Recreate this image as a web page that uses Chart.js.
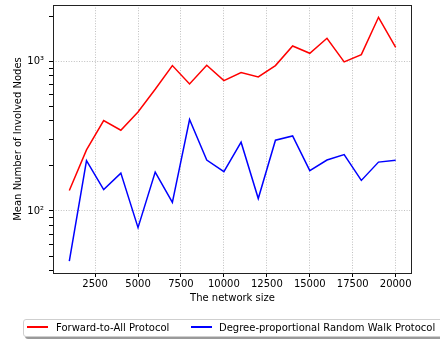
<!DOCTYPE html>
<html>
<head>
<meta charset="utf-8">
<script src="https://cdn.jsdelivr.net/npm/chart.js@4.4.1/dist/chart.umd.min.js"></script>
<style>
  html, body { margin:0; padding:0; background:#fff; overflow:hidden; }
  #wrap { position:relative; width:440px; height:339px; overflow:hidden; }
  #c { position:absolute; left:0; top:0; }
  #legend {
    position:absolute; left:23px; top:319px; width:440px; height:16px;
    border:1px solid #cfcfcf; border-radius:3px; background:#fff;
    box-shadow: 2px 2px 0 #9a9a9a;
    font-family:'DejaVu Sans', sans-serif; font-size:10px; color:#000;
  }
  .swatch { position:absolute; top:6px; width:21px; height:2px; }
  .txt { position:absolute; top:0; height:16px; line-height:15px; white-space:nowrap; }
</style>
</head>
<body>
<div id="wrap">
  <canvas id="c" width="440" height="339"></canvas>
  <div id="legend"></div>
</div>
<script>
const networkSizes = [1000,2000,3000,4000,5000,6000,7000,8000,9000,10000,11000,12000,13000,14000,15000,16000,17000,18000,19000,20000];
const forwardToAll = [137,256,402,346,459,650,936,706,940,743,840,786,936,1266,1131,1424,990,1108,1968,1240];
const randomWalk = [46.3,217,139,179,77.4,182,114,408,219,183,288,121,297,317,186,219,238,160,212,218];
const seriesNames = ['Forward-to-All Protocol','Degree-proportional Random Walk Protocol'];
const seriesColors = ['#ff0000','#0000ff'];
const xTicks = [2500,5000,7500,10000,12500,15000,17500,20000];
const yTicks = [40,50,60,70,80,90,100,200,300,400,500,600,700,800,900,1000,2000];
const yLabels = {100:'10\u00B2', 1000:'10\u00B3'};

Chart.defaults.font.family = "'DejaVu Sans', sans-serif";
Chart.defaults.font.size = 10;
Chart.defaults.color = '#000';

const framePlugin = {
  id:'frame',
  afterDraw(chart){
    const a = chart.chartArea, ctx = chart.ctx;
    ctx.save();
    ctx.strokeStyle = '#222';
    ctx.lineWidth = 1;
    ctx.strokeRect(Math.round(a.left)+0.5, Math.round(a.top)+0.5, Math.round(a.right-a.left)-1, Math.round(a.bottom-a.top));
    ctx.restore();
  }
};

const mk = (vals) => networkSizes.map((x,i)=>({x:x, y:vals[i]}));
const noPad = (s) => { s.paddingTop = 0; s.paddingBottom = 0; s.paddingLeft = 0; s.paddingRight = 0; };

new Chart(document.getElementById('c'), {
  type:'line',
  data:{
    datasets:[
      {label:seriesNames[0], data:mk(forwardToAll), borderColor:seriesColors[0], backgroundColor:seriesColors[0], borderWidth:1.5, pointRadius:0, tension:0, fill:false},
      {label:seriesNames[1], data:mk(randomWalk), borderColor:seriesColors[1], backgroundColor:seriesColors[1], borderWidth:1.5, pointRadius:0, tension:0, fill:false}
    ]
  },
  options:{
    responsive:false,
    animation:false,
    devicePixelRatio:1,
    layout:{padding:{top:5, right:28, bottom:29, left:0}},
    plugins:{legend:{display:false}, tooltip:{enabled:false}},
    scales:{
      x:{
        type:'linear', min:50, max:20950, bounds:'data',
        afterBuildTicks(s){ s.ticks = xTicks.map(v=>({value:v})); },
        afterFit(s){ s.height = 37; noPad(s); },
        ticks:{autoSkip:false, maxRotation:0, padding:1, color:'#000', callback:(v)=>String(v)},
        grid:{color:'#b0b0b0', lineWidth:0.8, tickColor:'#000', tickLength:4, tickWidth:1},
        border:{display:false, dash:[1,1.6]},
        title:{display:true, text:'The network size', color:'#000', font:{size:10}, padding:{top:0, bottom:6}}
      },
      y:{
        type:'logarithmic', min:38.5, max:2377, bounds:'data',
        afterBuildTicks(s){ s.ticks = yTicks.map(v=>({value:v})); },
        afterFit(s){ s.width = 53; noPad(s); },
        ticks:{autoSkip:false, padding:5, color:'#000', callback:(v)=> yLabels[v] || ''},
        grid:{
          color:(ctx)=> (ctx.tick && yLabels[ctx.tick.value]) ? '#b0b0b0' : 'rgba(0,0,0,0)',
          lineWidth:0.8, tickColor:'#000', tickLength:4, tickWidth:1
        },
        border:{display:false, dash:[1,1.6]},
        title:{display:true, text:'Mean Number of Involved Nodes', color:'#000', font:{size:10}, padding:{top:12, bottom:0}}
      }
    }
  },
  plugins:[framePlugin]
});

// legend built from the same series arrays
const lg = document.getElementById('legend');
const itemPos = [[3,32],[167,195]];
seriesNames.forEach((n,i)=>{
  const sw = document.createElement('div');
  sw.className='swatch'; sw.style.left = itemPos[i][0]+'px'; sw.style.backgroundColor = seriesColors[i];
  const t = document.createElement('div');
  t.className='txt'; t.style.left = itemPos[i][1]+'px'; t.textContent = n;
  lg.appendChild(sw); lg.appendChild(t);
});
</script>
</body>
</html>
